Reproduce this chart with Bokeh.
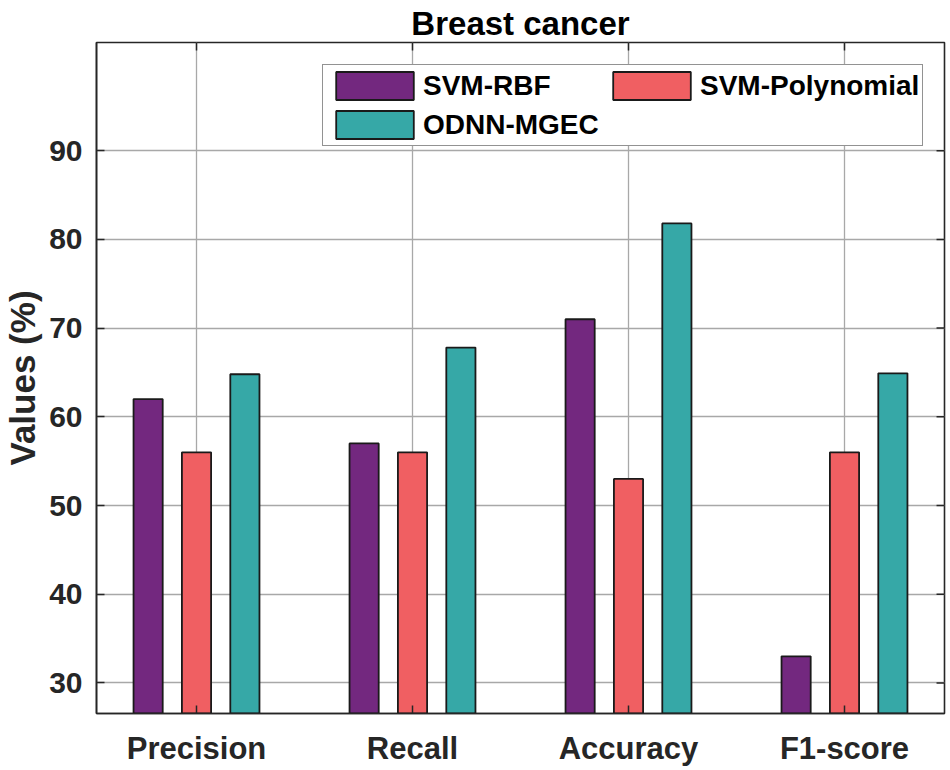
from bokeh.plotting import figure
from bokeh.models import Range1d, FixedTicker, Legend, LegendItem, ColumnDataSource
from bokeh.embed import file_html
from bokeh.resources import INLINE

categories = ["Precision", "Recall", "Accuracy", "F1-score"]
series_names = ["SVM-RBF", "SVM-Polynomial", "ODNN-MGEC"]
svm_rbf = [62.0, 57.0, 71.0, 33.0]
svm_poly = [56.0, 56.0, 53.0, 56.0]
odnn_mgec = [64.8, 67.8, 81.8, 64.9]
y_ticks = [30, 40, 50, 60, 70, 80, 90]
title_text = "Breast cancer"

colors = ["#73287F", "#F05F62", "#36A8A7"]
offsets = [-0.224, 0.0, 0.224]
bar_width = 0.135
FONT = "Liberation Sans"
X0, X1 = 0.537, 4.463
Y0, Y1 = 26.55, 102.2
FRAME_W, FRAME_H = 851, 671

x_pos = [i + 1 for i in range(len(categories))]

p = figure(width=950, height=770, output_backend="svg", toolbar_location=None,
           x_range=Range1d(X0, X1), y_range=Range1d(Y0, Y1),
           min_border_left=93, min_border_right=6, min_border_top=42, min_border_bottom=57)

p.title.text = title_text
p.title.align = "center"
p.title.text_font = FONT
p.title.text_font_size = "33px"
p.title.text_font_style = "bold"
p.title.text_color = "black"
p.title.standoff = 1
p.title.offset = 0

renderers = []
for vals, col, off in zip([svm_rbf, svm_poly, odnn_mgec], colors, offsets):
    src = ColumnDataSource(dict(x=[x + off for x in x_pos], top=vals))
    r = p.vbar(x="x", top="top", bottom=0, width=bar_width, source=src,
               fill_color=col, line_color="#1a1a1a", line_width=1.8)
    renderers.append(r)

# grid
p.xgrid.ticker = FixedTicker(ticks=x_pos)
p.ygrid.ticker = FixedTicker(ticks=y_ticks)
for g in (p.xgrid, p.ygrid):
    g.grid_line_color = "#a8a8a8"
    g.grid_line_width = 1.3

p.outline_line_color = "#262626"
p.outline_line_width = 1.6

# mirrored tick marks on the top and right edges (8 px long)
tick_dx = 8 * (X1 - X0) / FRAME_W
tick_dy = 8 * (Y1 - Y0) / FRAME_H
p.segment(x0=[X1] * len(y_ticks), x1=[X1 - tick_dx] * len(y_ticks), y0=y_ticks, y1=y_ticks,
          line_color="#262626", line_width=1.5)
p.segment(x0=x_pos, x1=x_pos, y0=[Y1] * len(x_pos), y1=[Y1 - tick_dy] * len(x_pos),
          line_color="#262626", line_width=1.5)

# x axis
xa = p.xaxis[0]
xa.ticker = FixedTicker(ticks=x_pos)
xa.major_label_overrides = {x: c for x, c in zip(x_pos, categories)}
xa.major_label_text_font = FONT
xa.major_label_text_font_size = "31px"
xa.major_label_text_font_style = "bold"
xa.major_label_text_color = "#262626"
xa.major_tick_in = 8
xa.major_tick_out = 0
xa.minor_tick_in = 0
xa.minor_tick_out = 0
xa.major_label_standoff = 17
xa.axis_line_color = "#262626"
xa.axis_line_width = 1.6
xa.major_tick_line_color = "#262626"
xa.major_tick_line_width = 1.5

# y axis
ya = p.yaxis[0]
ya.ticker = FixedTicker(ticks=y_ticks)
ya.major_label_text_font = FONT
ya.major_label_text_font_size = "30px"
ya.major_label_text_font_style = "bold"
ya.major_label_text_color = "#262626"
ya.major_tick_in = 8
ya.major_tick_out = 0
ya.minor_tick_in = 0
ya.minor_tick_out = 0
ya.major_label_standoff = 14
ya.axis_label = "Values (%)"
ya.axis_label_text_font = FONT
ya.axis_label_text_font_size = "35px"
ya.axis_label_text_font_style = "bold"
ya.axis_label_text_color = "#262626"
ya.axis_label_standoff = 4
ya.axis_line_color = "#262626"
ya.axis_line_width = 1.6
ya.major_tick_line_color = "#262626"
ya.major_tick_line_width = 1.5

legend = Legend(items=[LegendItem(label=n, renderers=[r]) for n, r in zip(series_names, renderers)],
                orientation="horizontal", ncols=2, location=(226, 567),
                glyph_width=97, glyph_height=35, label_height=35, label_width=176,
                label_standoff=0, spacing=4, padding=3, margin=0,
                border_line_color="#262626", border_line_width=1.6,
                background_fill_color="white", background_fill_alpha=1.0,
                label_text_font=FONT, label_text_font_size="28px",
                label_text_font_style="bold", label_text_color="black")
p.add_layout(legend)

open("out.html", "w").write(file_html(p, INLINE))
